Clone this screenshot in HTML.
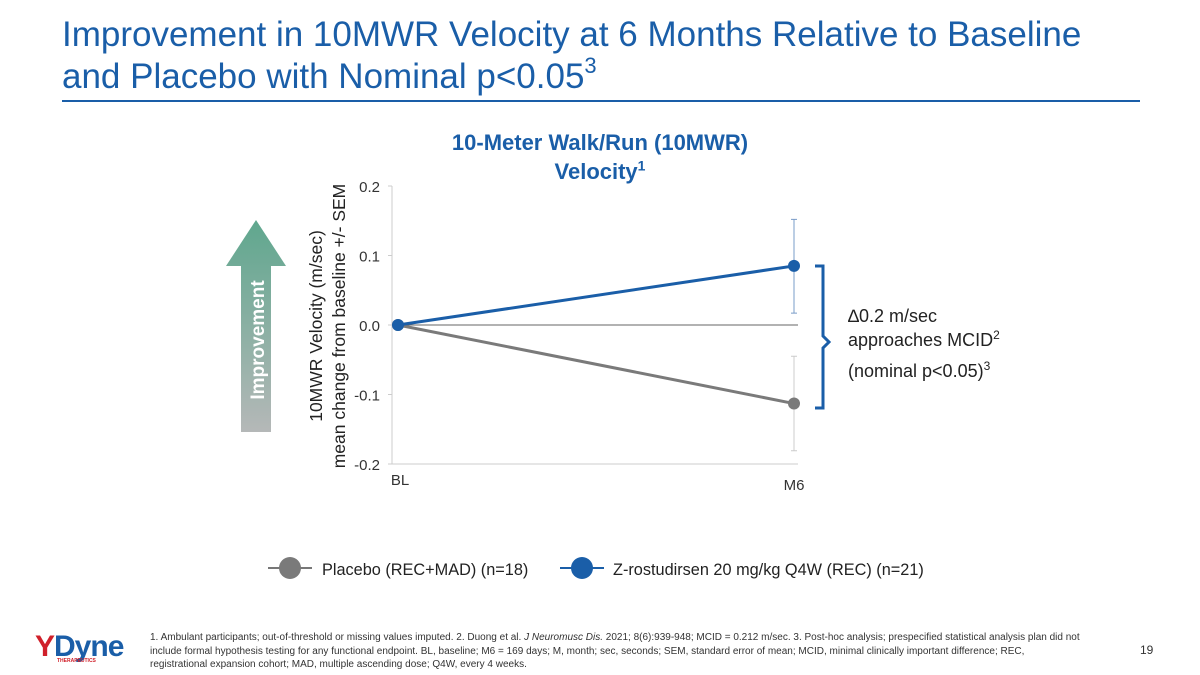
<!DOCTYPE html>
<html><head><meta charset="utf-8"><style>
body{margin:0;width:1200px;height:675px;background:#fff;font-family:"Liberation Sans",sans-serif;position:relative;overflow:hidden}
.abs{position:absolute}
</style></head><body>
<div class="abs" style="left:62px;top:14px;font-size:35px;line-height:42px;color:#1a5ea8">Improvement in 10MWR Velocity at 6 Months Relative to Baseline<br>and Placebo with Nominal p&lt;0.05<sup style="font-size:22px;vertical-align:15px;line-height:0">3</sup></div>
<div class="abs" style="left:62px;top:100px;width:1078px;height:2px;background:#1a5ea8"></div>
<div class="abs" style="left:400px;top:128px;width:400px;text-align:center;font-size:22px;font-weight:bold;color:#1a5ea8;line-height:29px">10-Meter Walk/Run (10MWR)<br>Velocity<sup style="font-size:14px;line-height:0">1</sup></div>
<svg class="abs" style="left:0;top:0" width="1200" height="675">
<defs><linearGradient id="ag" x1="0" y1="0" x2="0" y2="1"><stop offset="0" stop-color="#5fa78e"/><stop offset="1" stop-color="#b5b8b8"/></linearGradient></defs>
<polygon points="241,432 241,266 226,266 256,220 286,266 271,266 271,432" fill="url(#ag)"/>
<text transform="translate(264,340) rotate(-90)" text-anchor="middle" font-size="19" font-weight="bold" fill="#fff" font-family="Liberation Sans">Improvement</text>
<text transform="translate(322,326) rotate(-90)" text-anchor="middle" font-size="17.5" fill="#222" font-family="Liberation Sans"><tspan x="0" dy="0">10MWR Velocity (m/sec)</tspan><tspan x="0" dy="23">mean change from baseline +/- SEM</tspan></text>
<g id="plot"></g>
<path d="M815,266 h8 v70 l6,6 l-6,6 v60 h-8" fill="none" stroke="#1a5ea8" stroke-width="3"/>
<text font-size="18" fill="#222" font-family="Liberation Sans"><tspan x="848" y="322">∆0.2 m/sec</tspan><tspan x="848" y="346">approaches MCID</tspan><tspan font-size="12" dy="-7">2</tspan><tspan x="848" y="377">(nominal p&lt;0.05)</tspan><tspan font-size="12" dy="-7">3</tspan></text>
<g>
<line x1="268" y1="568" x2="312" y2="568" stroke="#777" stroke-width="2"/><circle cx="290" cy="568" r="11" fill="#7a7a7a"/>
<text x="322" y="575" font-size="16.3" fill="#222" font-family="Liberation Sans">Placebo (REC+MAD) (n=18)</text>
<line x1="560" y1="568" x2="604" y2="568" stroke="#1a5ea8" stroke-width="2"/><circle cx="582" cy="568" r="11" fill="#1a5ea8"/>
<text x="613" y="575" font-size="16.3" fill="#222" font-family="Liberation Sans">Z-rostudirsen 20 mg/kg Q4W (REC) (n=21)</text>
</g>
</svg>
<div class="abs" style="left:35px;top:630px;font-size:30px;font-weight:bold;color:#1a5ea8;letter-spacing:-1px"><span style="color:#d0202a">Y</span>Dyne<div style="font-size:5px;color:#d0202a;letter-spacing:0;margin-left:22px;margin-top:-6px">THERAPEUTICS</div></div>
<div class="abs" style="left:150px;top:631px;width:930px;font-size:10px;line-height:13.5px;color:#333">1. Ambulant participants; out-of-threshold or missing values imputed. 2. Duong et al. <i>J Neuromusc Dis.</i> 2021; 8(6):939-948; MCID = 0.212 m/sec. 3. Post-hoc analysis; prespecified statistical analysis plan did not include formal hypothesis testing for any functional endpoint. BL, baseline; M6 = 169 days; M, month; sec, seconds; SEM, standard error of mean; MCID, minimal clinically important difference; REC, registrational expansion cohort; MAD, multiple ascending dose; Q4W, every 4 weeks.</div>
<div class="abs" style="left:1140px;top:643px;font-size:12px;color:#333">19</div>
<script>
const categories=["BL","M6"];
const placebo=[0,-0.113];
const placeboLo=[0,-0.181];
const placeboHi=[0,-0.045];
const drug=[0,0.085];
const drugLo=[0,0.017];
const drugHi=[0,0.152];
const yTicks=[0.2,0.1,0.0,-0.1,-0.2];
const yTickLabels=["0.2","0.1","0.0","-0.1","-0.2"];
const NS="http://www.w3.org/2000/svg";
const g=document.getElementById('plot');
const y=v=>325-v*695;
const x=i=>398+i*396;
function el(t,a,p){const e=document.createElementNS(NS,t);for(const k in a)e.setAttribute(k,a[k]);(p||g).appendChild(e);return e;}
let ax=el('line',{x1:392,y1:y(0.2),x2:392,y2:y(-0.2),stroke:'#ccc','stroke-width':1});


let bx=el('line',{x1:392,y1:y(-0.2),x2:798,y2:y(-0.2),stroke:'#ccc','stroke-width':1});


let zl=el('line',{x1:392,y1:y(0),x2:798,y2:y(0),stroke:'#666','stroke-width':1});


yTicks.forEach((v,i)=>{
 el('line',{x1:388,y1:y(v),x2:392,y2:y(v),stroke:'#ccc'});
 const t=el('text',{x:380,y:y(v)+6,'text-anchor':'end','font-size':15,fill:'#333','font-family':'Liberation Sans'});
 t.textContent=yTickLabels[i];
 
 
});
categories.forEach((c,i)=>{
 const t=el('text',{x:x(i)+(i?0:2),y:i?490:485,'text-anchor':'middle','font-size':15,fill:'#333','font-family':'Liberation Sans'});
 t.textContent=c;
 
 
});
function series(vals,lo,hi,color,ecol,name){
 for(let i=0;i<vals.length;i++){
  if(hi[i]!==lo[i]){
   const eb=el('path',{d:`M${x(i)},${y(hi[i])}V${y(lo[i])}M${x(i)-3},${y(hi[i])}h6M${x(i)-3},${y(lo[i])}h6`,stroke:ecol,'stroke-width':1,fill:'none'});
   
   
  }
 }
 const ln=el('polyline',{points:vals.map((v,i)=>x(i)+','+y(v)).join(' '),stroke:color,'stroke-width':3,fill:'none'});
 
 
 vals.forEach((v,i)=>{
  const c=el('circle',{cx:x(i),cy:y(v),r:6,fill:color});
  
  
 });
}
series(placebo,placeboLo,placeboHi,'#7a7a7a','#ccc','placebo');
series(drug,drugLo,drugHi,'#1a5ea8','#7a9cc8','z-rostudirsen');
</script>
</body></html>
